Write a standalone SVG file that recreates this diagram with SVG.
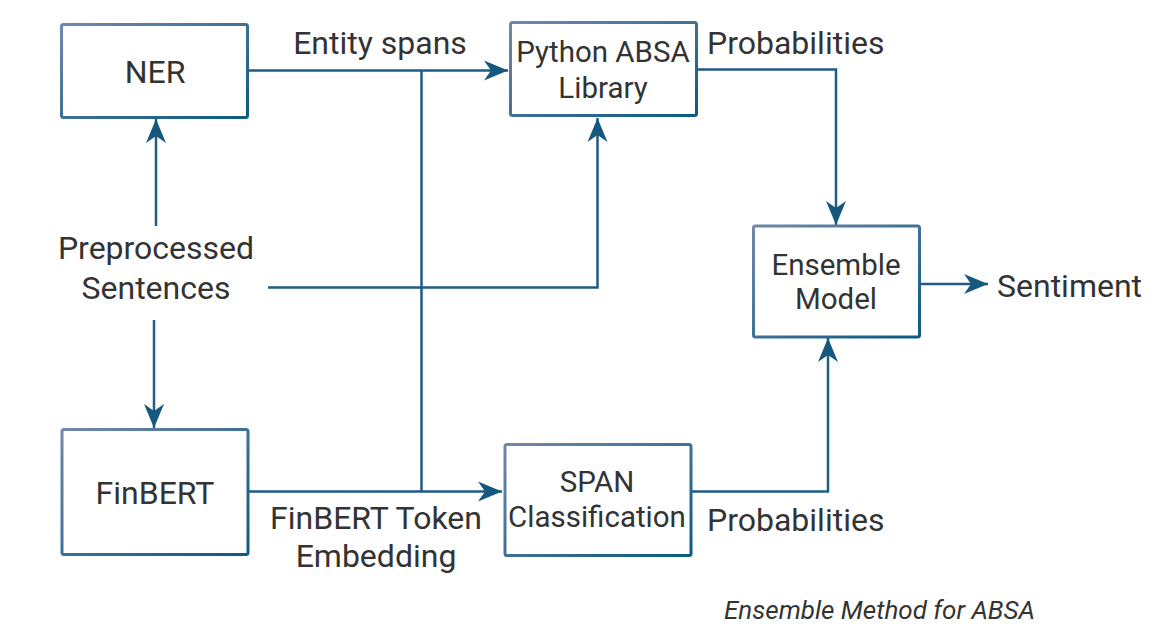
<svg xmlns="http://www.w3.org/2000/svg" width="1162" height="631" viewBox="0 0 1162 631">
<defs>
<linearGradient id="g" x1="0" y1="0" x2="1" y2="1">
<stop offset="0" stop-color="#7088ab"/>
<stop offset="1" stop-color="#0e5a80"/>
</linearGradient>
<marker id="arr" markerUnits="userSpaceOnUse" markerWidth="26" markerHeight="22" refX="24" refY="11" orient="auto">
<path d="M0,1 L24,11 L0,21 L7,11 Z" fill="#14587f"/>
</marker>
<style>
.box{fill:#fff;stroke:url(#g);stroke-width:3;}
.ln{fill:none;stroke:#1f5b82;stroke-width:2.5;}
.t{font-family:Roboto,"Liberation Sans",sans-serif;fill:#333;text-anchor:middle;}
.l{font-size:32px;}
.m{font-size:29.5px;}
.s{text-anchor:start;}
</style>
</defs>
<rect width="1162" height="631" fill="#fff"/>
<g id="connectors">
<path class="ln" d="M248,70.5 H508" marker-end="url(#arr)"/>
<path class="ln" d="M421.5,70.5 V491.5"/>
<path class="ln" d="M248,491.5 H502" marker-end="url(#arr)"/>
<path class="ln" d="M268,287.5 H597.5 V118" marker-end="url(#arr)"/>
<path class="ln" d="M156,226 V119" marker-end="url(#arr)"/>
<path class="ln" d="M154,320 V428" marker-end="url(#arr)"/>
<path class="ln" d="M696,69.5 H836 V225" marker-end="url(#arr)"/>
<path class="ln" d="M691,491.5 H828 V338" marker-end="url(#arr)"/>
<path class="ln" d="M919,284 H988" marker-end="url(#arr)"/>
</g>
<g id="ner"><rect class="box" x="61.5" y="24.5" width="186" height="93" rx="2"/><text class="t l" x="155" y="83">NER</text></g>
<g id="python"><rect class="box" x="510.5" y="22.5" width="186" height="93" rx="2"/><text class="t m" x="603" y="62">Python ABSA</text><text class="t m" x="603" y="98">Library</text></g>
<g id="ensemble"><rect class="box" x="753.5" y="226" width="166" height="111" rx="2"/><text class="t m" x="836" y="275">Ensemble</text><text class="t m" x="836" y="309">Model</text></g>
<g id="finbert"><rect class="box" x="62" y="429.5" width="186" height="125" rx="2"/><text class="t l" x="155" y="504">FinBERT</text></g>
<g id="span"><rect class="box" x="505" y="444.5" width="186" height="111" rx="2"/><text class="t m" x="597" y="492">SPAN</text><text class="t m" x="597" y="527">Classification</text></g>
<g id="preprocessed"><text class="t l" x="156" y="259">Preprocessed</text><text class="t l" x="156" y="299">Sentences</text></g>
<g id="labels">
<text class="t l" x="380" y="54">Entity spans</text>
<text class="t l s" x="707" y="54">Probabilities</text>
<text class="t l s" x="707" y="531">Probabilities</text>
<text class="t l" x="376" y="529">FinBERT Token</text>
<text class="t l" x="376" y="567">Embedding</text>
<text class="t l s" x="997" y="297">Sentiment</text>
<text class="t s" x="724" y="619" style="font-size:26px;font-style:italic">Ensemble Method for ABSA</text>
</g>
</svg>
